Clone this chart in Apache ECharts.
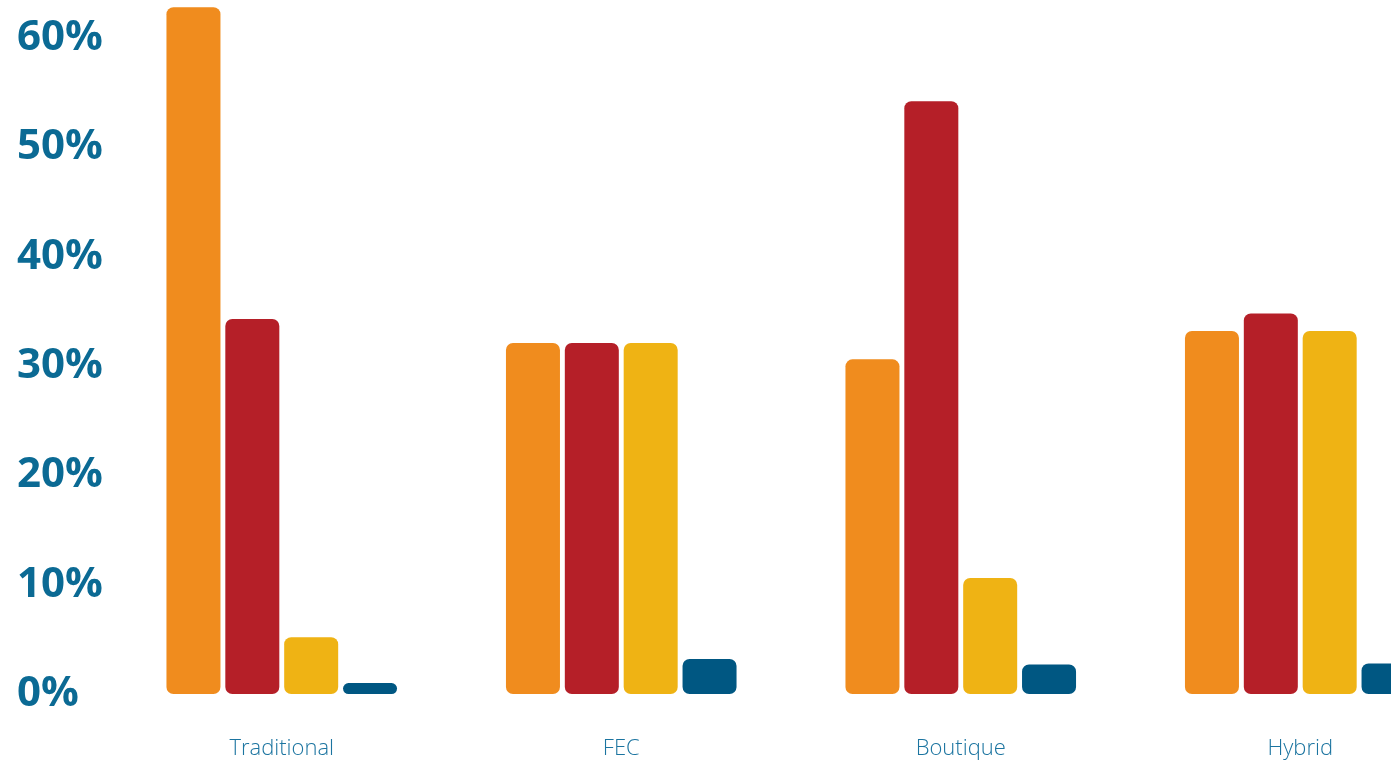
<!DOCTYPE html>
<html>
<head>
<meta charset="utf-8">
<script src="https://cdn.jsdelivr.net/npm/echarts@6/dist/echarts.min.js"></script>
<style>
  html, body { margin: 0; padding: 0; background: #fff; overflow: hidden; }
  #chart { width: 1480px; height: 764px; }
</style>
</head>
<body>
<div id="chart"></div>
<script>
// 分类与各系列数值（百分比）
const categories = ['Traditional', 'FEC', 'Boutique', 'Hybrid'];
const seriesNames = ['A', 'B', 'C', 'D'];
const valuesOrange = [62.8, 32.1, 30.6, 33.2];
const valuesRed = [34.3, 32.1, 54.2, 34.8];
const valuesYellow = [5.2, 32.1, 10.6, 33.2];
const valuesBlue = [1.0, 3.2, 2.7, 2.8];
const yTicks = [0, 10, 20, 30, 40, 50, 60];

const colors = ['#F08C1E', '#B51F28', '#EFB314', '#005782'];
const allValues = [valuesOrange, valuesRed, valuesYellow, valuesBlue];

const myChart = echarts.init(document.getElementById('chart'));

const option = {
  animation: false,
  grid: { left: 112, right: 10, top: 5, bottom: 70 },
  xAxis: {
    type: 'category',
    data: categories,
    axisLine: { show: false },
    axisTick: { show: false },
    axisLabel: {
      color: '#1B74A0',
      fontFamily: 'Open Sans',
      fontWeight: 300,
      fontSize: 22,
      margin: 44
    }
  },
  yAxis: {
    type: 'value',
    min: 0,
    max: 63,
    interval: 10,
    splitLine: { show: false },
    axisLine: { show: false },
    axisTick: { show: false },
    axisLabel: {
      color: '#0B6A94',
      fontFamily: 'Open Sans',
      fontWeight: 'bold',
      fontSize: 42,
      align: 'left',
      margin: 95,
      formatter: (v) => (yTicks.includes(v) ? v + '%' : '')
    }
  },
  series: allValues.map((vals, i) => ({
    name: seriesNames[i],
    type: 'bar',
    data: vals,
    barWidth: 54,
    barGap: '9%',
    itemStyle: { color: colors[i], borderRadius: 7 }
  }))
};

myChart.setOption(option);
</script>
</body>
</html>
